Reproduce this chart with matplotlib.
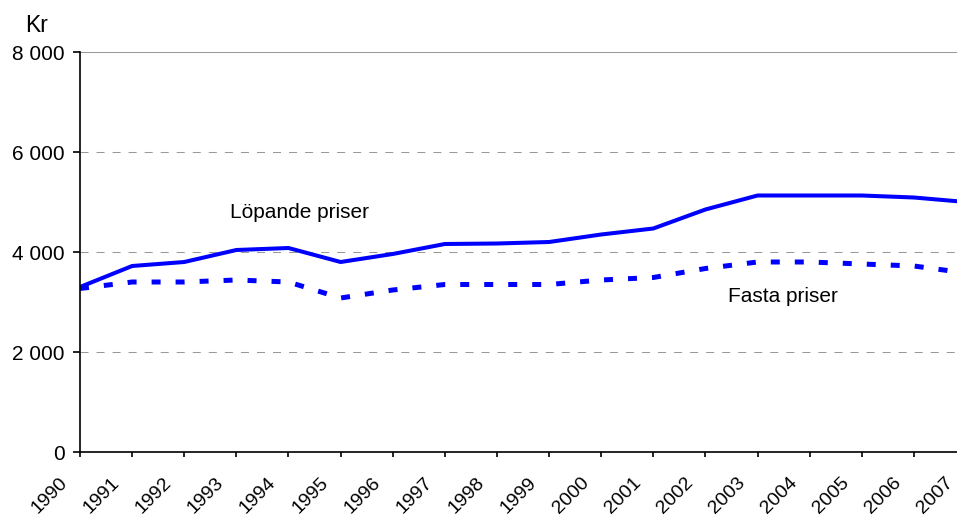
import matplotlib
matplotlib.use('Agg')
from matplotlib import pyplot as plt
from matplotlib.transforms import ScaledTranslation

plt.rcParams['font.family'] = ['Liberation Sans', 'DejaVu Sans']

years = list(range(1990, 2008))
lopande = [3300, 3720, 3800, 4040, 4080, 3800, 3960, 4160, 4170, 4200,
           4350, 4470, 4850, 5130, 5130, 5130, 5090, 5000]
fasta = [3270, 3400, 3400, 3440, 3400, 3080, 3240, 3350, 3350, 3350,
         3440, 3490, 3670, 3800, 3800, 3760, 3720, 3580]
y_ticks = [0, 2000, 4000, 6000, 8000]
y_labels = ['0', '2 000', '4 000', '6 000', '8 000']

fig = plt.figure(figsize=(9.57, 5.19), dpi=100)
# plot area runs a little past the right edge of the picture (2007 is cut)
ax = fig.add_axes([80 / 957, (519 - 452) / 519, 886 / 957, 400 / 519])

ax.plot(years, lopande, color='#0000ff', lw=2.9)
ax.plot(years, fasta, color='#0000ff', lw=3.6,
        linestyle=(0, (1.8, 3.0)), dash_capstyle='butt')

ax.set_xlim(1990, 2007)
ax.set_ylim(0, 8000)
ax.set_yticks(y_ticks)
ax.set_yticklabels(y_labels, fontsize=15)
ax.set_xticks(years)
ax.set_xticklabels([])

# year labels drawn by hand so they can sit down-left of the tick
offset = ScaledTranslation(-9 / 100, -34 / 100, fig.dpi_scale_trans)
for y in years:
    ax.text(y, 0, str(y), fontsize=14, rotation=45, ha='right', va='bottom',
            rotation_mode='anchor',
            transform=ax.get_xaxis_transform() + offset)

for v in [2000, 4000, 6000]:
    ax.axhline(v, color='#999999', lw=0.75, ls=(0, (7.7, 7.7)), zorder=0)
ax.axhline(8000, color='#999999', lw=0.75, zorder=0)

ax.spines['top'].set_visible(False)
ax.spines['right'].set_visible(False)
ax.spines['left'].set_linewidth(1.2)
ax.spines['bottom'].set_linewidth(1.2)
ax.tick_params(axis='y', length=5, width=1.2, pad=6)
ax.tick_params(axis='x', length=3.6, width=1.2)

ax.text(1992.88, 4780, 'Löpande priser', fontsize=15, va='center', ha='left')
ax.text(2002.44, 3100, 'Fasta priser', fontsize=15, va='center', ha='left')
fig.text(25 / 957, 1 - 32 / 519, 'Kr', fontsize=16.5, va='baseline', ha='left')

fig.savefig('out.png', dpi=100)
